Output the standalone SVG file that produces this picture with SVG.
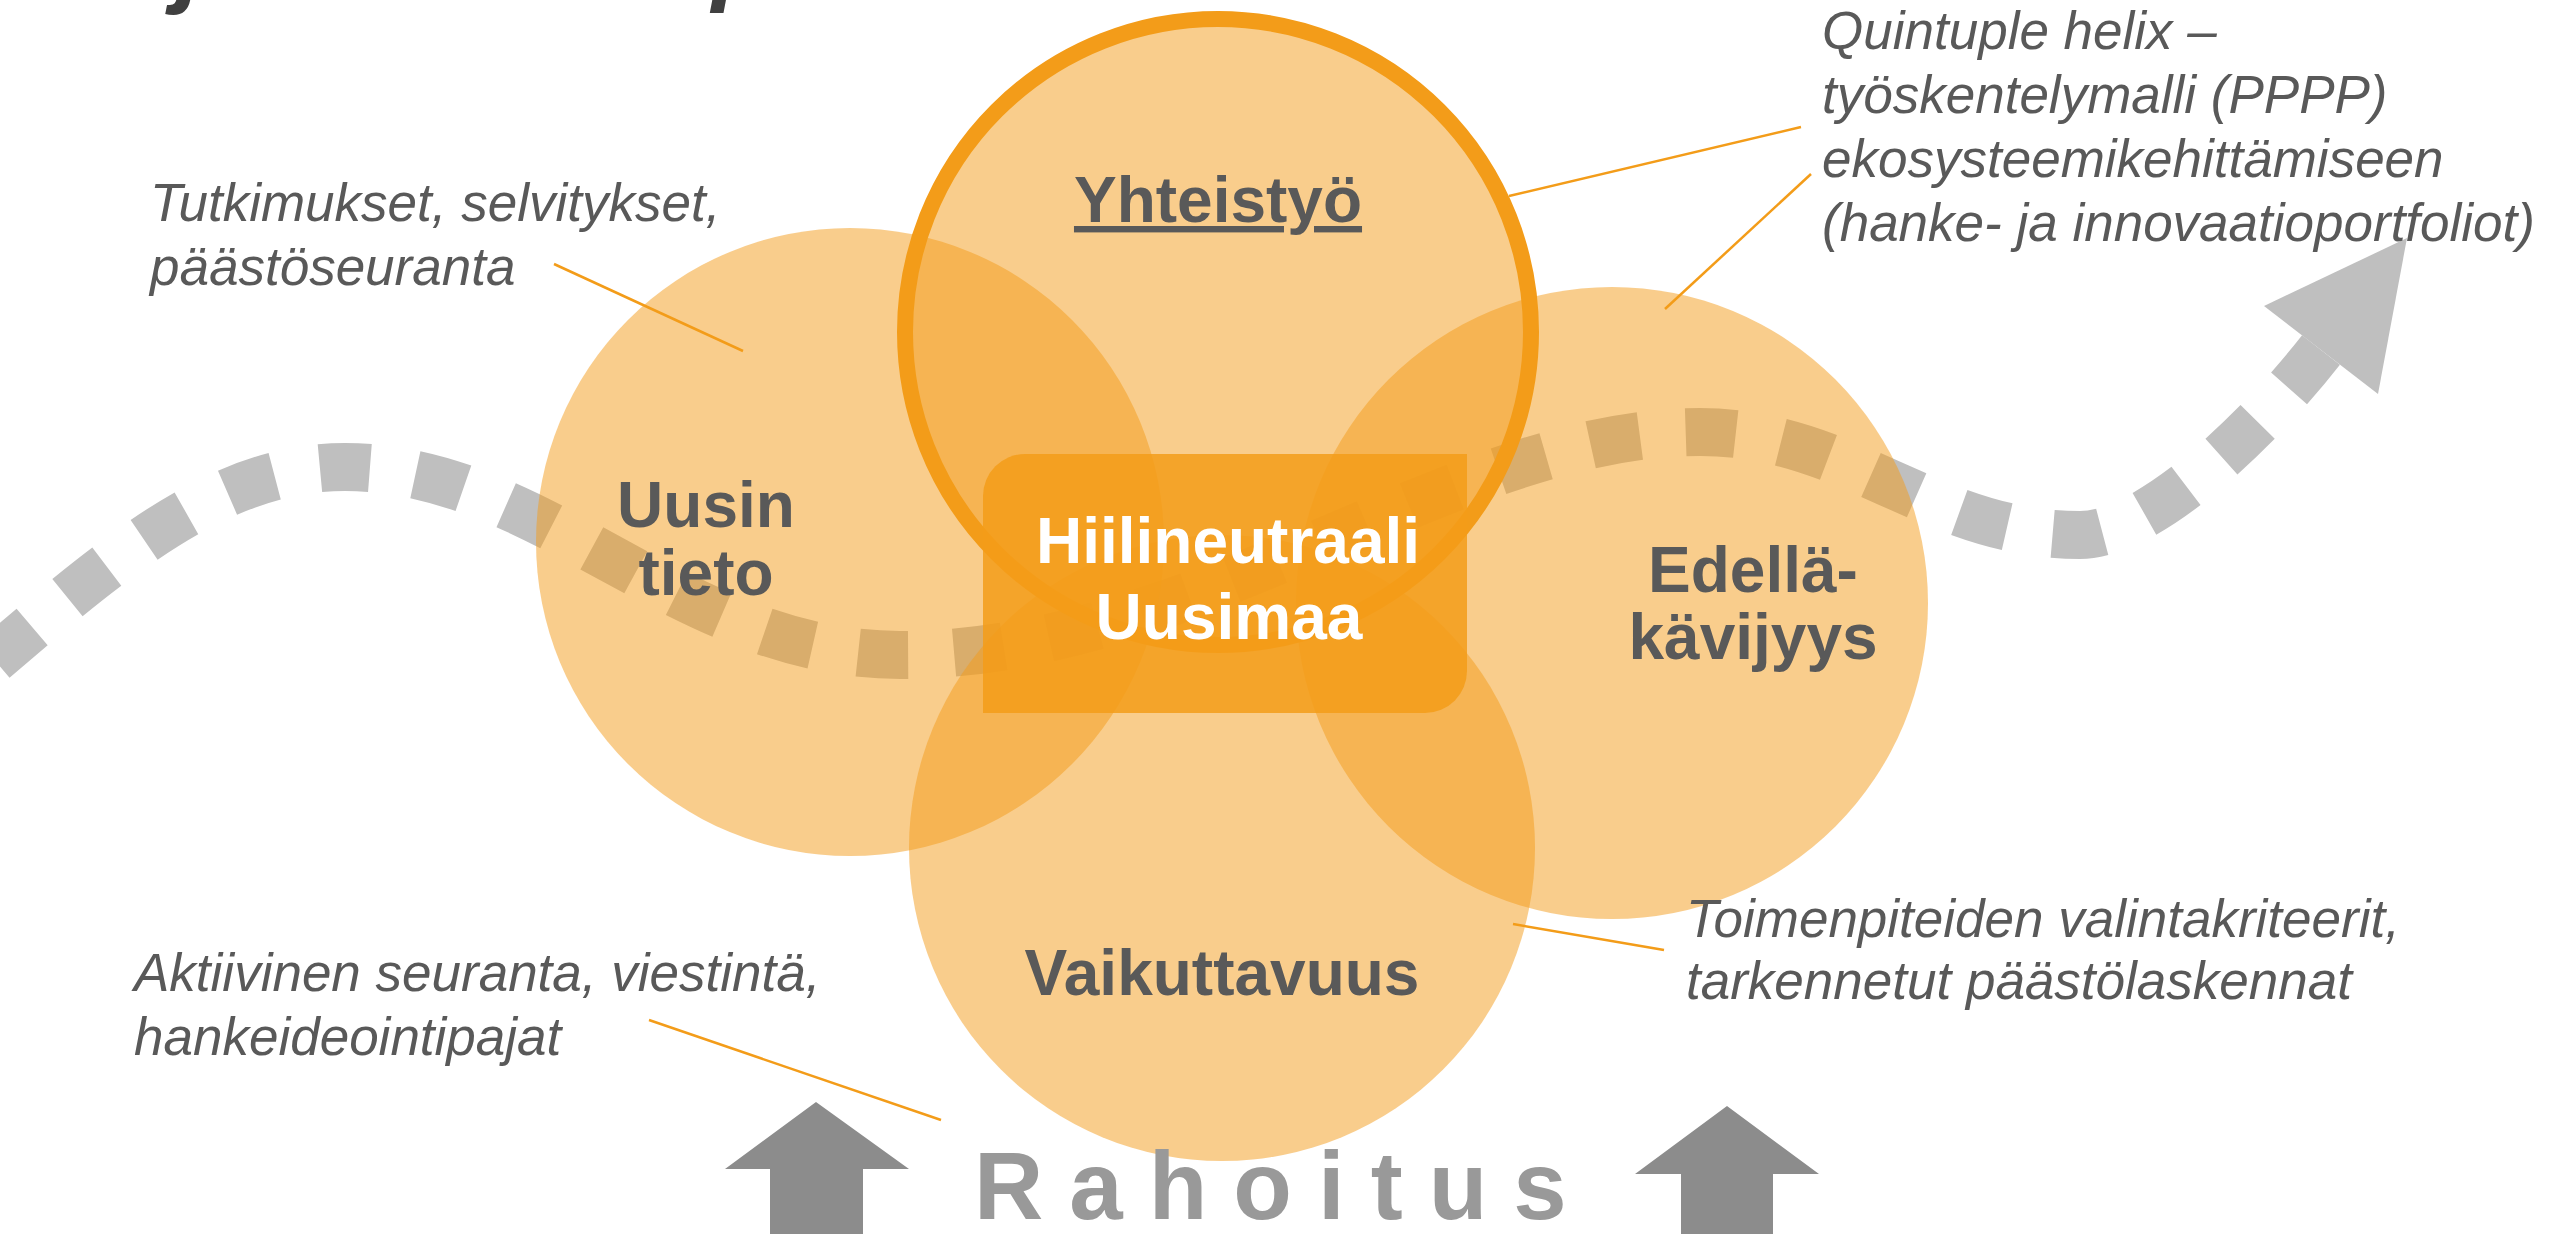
<svg xmlns="http://www.w3.org/2000/svg" width="2552" height="1234" viewBox="0 0 2552 1234">
  <style>
    .lbl { font-family: "Liberation Sans", Arial, sans-serif; font-weight: bold; font-size: 64px; fill: #595959; text-anchor: middle; }
    .ann { font-family: "Liberation Sans", Arial, sans-serif; font-style: italic; font-size: 53px; fill: #595959; }
    .disc { fill: #F39C19; fill-opacity: 0.5; }
    .lead { stroke: #F39C19; stroke-width: 2.5; fill: none; }
    .up { fill: #8C8C8C; }
  </style>
  <rect width="2552" height="1234" fill="#FFFFFF"/>

  <!-- title fragment cut off at the top -->
  <g id="title-fragment" font-family="Liberation Sans, Arial, sans-serif" font-weight="bold" font-style="italic" font-size="100" fill="#404040">
    <text x="176" y="-6">j</text>
    <text x="712" y="-8">p</text>
  </g>

  <!-- dashed wave with arrowhead -->
  <g id="wave">
    <path d="M 2321,350 C 2261,427 2150,535 2080,535 C 1930,535 1850,432 1700,432 C 1450,432 1200,655 900,655 C 680,655 545,467 345,467 C 215,467 110,560 -30,680" fill="none" stroke="#BFBFBF" stroke-width="48" stroke-dasharray="50 46"/>
    <polygon points="2407,238 2264,306 2378,394" fill="#BFBFBF"/>
  </g>

  <g id="node-uusin-tieto">
    <circle class="disc" cx="850" cy="542" r="314"/>
    <text class="lbl" x="706" y="527">Uusin</text>
    <text class="lbl" x="706" y="595">tieto</text>
  </g>

  <g id="node-edellakavijyys">
    <circle class="disc" cx="1612" cy="603" r="316"/>
    <text class="lbl" x="1753" y="592">Edellä-</text>
    <text class="lbl" x="1753" y="659">kävijyys</text>
  </g>

  <g id="node-vaikuttavuus">
    <circle class="disc" cx="1222" cy="848" r="313"/>
    <text class="lbl" x="1222" y="995">Vaikuttavuus</text>
  </g>

  <g id="node-yhteistyo">
    <circle class="disc" cx="1218" cy="332" r="313" stroke="#F39C19" stroke-width="16" stroke-opacity="1"/>
    <text class="lbl" x="1218" y="222" text-decoration="underline">Yhteistyö</text>
  </g>

  <g id="node-center">
    <path d="M 1025,454 H 1467 V 671 A 42 42 0 0 1 1425,713 H 983 V 496 A 42 42 0 0 1 1025,454 Z" fill="#F39C19" fill-opacity="0.85"/>
    <text class="lbl" x="1228" y="563" style="fill:#FFFFFF">Hiilineutraali</text>
    <text class="lbl" x="1229" y="639" style="fill:#FFFFFF">Uusimaa</text>
  </g>

  <g id="annotations">
    <text class="ann" x="150" y="221">Tutkimukset, selvitykset,</text>
    <text class="ann" x="150" y="285">päästöseuranta</text>
    <text class="ann" x="1822" y="49">Quintuple helix –</text>
    <text class="ann" x="1822" y="113">työskentelymalli (PPPP)</text>
    <text class="ann" x="1822" y="177">ekosysteemikehittämiseen</text>
    <text class="ann" x="1822" y="241">(hanke- ja innovaatioportfoliot)</text>
    <text class="ann" x="1686" y="937">Toimenpiteiden valintakriteerit,</text>
    <text class="ann" x="1686" y="999">tarkennetut päästölaskennat</text>
    <text class="ann" x="134" y="991">Aktiivinen seuranta, viestintä,</text>
    <text class="ann" x="134" y="1055">hankeideointipajat</text>
  </g>

  <g id="connectors">
    <line class="lead" x1="554" y1="264" x2="743" y2="351"/>
    <line class="lead" x1="1509" y1="196" x2="1801" y2="127"/>
    <line class="lead" x1="1665" y1="309" x2="1811" y2="174"/>
    <line class="lead" x1="1513" y1="924" x2="1664" y2="950"/>
    <line class="lead" x1="649" y1="1020" x2="941" y2="1120"/>
  </g>

  <g id="funding">
    <polygon class="up" points="816,1102 909,1169 863,1169 863,1234 770,1234 770,1169 725,1169"/>
    <polygon class="up" points="1727,1106 1819,1174 1773,1174 1773,1234 1681,1234 1681,1174 1635,1174"/>
    <text x="974" y="1219" font-family="Liberation Sans, Arial, sans-serif" font-weight="bold" font-size="96" letter-spacing="26" fill="#999999">Rahoitus</text>
  </g>
</svg>
